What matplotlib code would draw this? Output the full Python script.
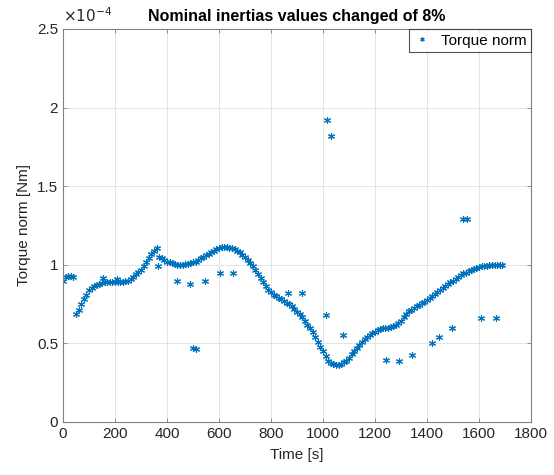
import matplotlib
matplotlib.use('Agg')
import matplotlib.pyplot as plt
from matplotlib.ticker import FuncFormatter

plt.rcParams['font.family'] = ['Liberation Sans', 'DejaVu Sans']

# main trace, one sample every 10 s, torque in units of 1e-4 Nm
time_s = list(range(0, 1700, 10))
torque = [
    0.90, 0.92, 0.93, 0.93, 0.92, 0.69, 0.71, 0.75, 0.78, 0.81,
    0.84, 0.855, 0.865, 0.873, 0.88, 0.885, 0.888, 0.89, 0.89, 0.89,
    0.89, 0.89, 0.89, 0.892, 0.895, 0.90, 0.91, 0.925, 0.94, 0.955,
    0.97, 0.99, 1.02, 1.045, 1.07, 1.09, 1.105, 1.05, 1.04, 1.03,
    1.02, 1.015, 1.01, 1.005, 1.00, 1.00, 1.00, 1.005, 1.005, 1.01,
    1.015, 1.02, 1.03, 1.04, 1.05, 1.06, 1.07, 1.08, 1.09, 1.10,
    1.105, 1.11, 1.11, 1.11, 1.108, 1.105, 1.10, 1.09, 1.08, 1.065,
    1.05, 1.03, 1.01, 0.99, 0.965, 0.94, 0.915, 0.89, 0.865, 0.84,
    0.825, 0.81, 0.80, 0.79, 0.78, 0.77, 0.76, 0.75, 0.735, 0.72,
    0.70, 0.685, 0.665, 0.64, 0.62, 0.60, 0.57, 0.54, 0.51, 0.48,
    0.45, 0.42, 0.39, 0.375, 0.37, 0.365, 0.365, 0.37, 0.38, 0.39,
    0.41, 0.43, 0.45, 0.47, 0.49, 0.51, 0.525, 0.54, 0.555, 0.565,
    0.575, 0.585, 0.59, 0.595, 0.60, 0.60, 0.605, 0.61, 0.62, 0.63,
    0.645, 0.665, 0.69, 0.705, 0.715, 0.725, 0.735, 0.745, 0.755, 0.765,
    0.775, 0.79, 0.80, 0.815, 0.83, 0.84, 0.855, 0.865, 0.875, 0.89,
    0.90, 0.91, 0.925, 0.935, 0.945, 0.95, 0.96, 0.97, 0.975, 0.98,
    0.985, 0.99, 0.993, 0.995, 0.997, 0.998, 0.998, 0.998, 0.998, 0.997,
]

# scattered samples off the main trace
outlier_time = [155, 206, 367, 437, 488, 500, 510, 546, 604, 655,
                867, 918, 1012, 1015, 1030, 1078, 1242, 1292, 1344,
                1418, 1448, 1497, 1540, 1555, 1609, 1667]
outlier_torque = [0.914, 0.907, 0.99, 0.90, 0.88, 0.47, 0.465, 0.90, 0.95, 0.95,
                  0.82, 0.82, 0.68, 1.92, 1.82, 0.553, 0.394, 0.388, 0.424,
                  0.50, 0.54, 0.60, 1.29, 1.29, 0.664, 0.66]

x_ticks = [0, 200, 400, 600, 800, 1000, 1200, 1400, 1600, 1800]
y_ticks = [0, 0.5, 1, 1.5, 2, 2.5]

blue = '#0072BD'
axis_grey = '#262626'
asterisk = (6, 2, 0)  # MATLAB-style '*'

fig = plt.figure(figsize=(5.54, 4.75), dpi=100)
ax = fig.add_axes([0.1137, 0.1116, 0.8448, 0.8274])

all_t = time_s + outlier_time
all_y = torque + outlier_torque
ax.plot(all_t, all_y, linestyle='none', marker=asterisk, color=blue,
        markersize=5, markeredgewidth=0.8, label='Torque norm')

ax.set_xlim(0, 1800)
ax.set_ylim(0, 2.5)
ax.set_xticks(x_ticks)
ax.set_yticks(y_ticks)
ax.yaxis.set_major_formatter(FuncFormatter(lambda v, p: f'{v:g}'))
ax.grid(True, color='#dfdfdf', linewidth=0.6)
ax.set_axisbelow(True)

for side in ax.spines.values():
    side.set_color('#808080')
    side.set_linewidth(0.8)
ax.tick_params(direction='in', length=3, width=0.6, colors='#808080',
               labelcolor=axis_grey, labelsize=11, top=True, right=True,
               labeltop=False, labelright=False)

ax.set_xlabel('Time [s]', fontsize=11, color=axis_grey, labelpad=5)
ax.set_ylabel('Torque norm [Nm]', fontsize=11, color=axis_grey, labelpad=4)
ax.set_title('Nominal inertias values changed of 8%', fontsize=11.5,
             fontweight='bold', color='black', pad=6)
ax.text(0.0, 1.01, r'$\times10^{-4}$', transform=ax.transAxes,
        fontsize=11, color=axis_grey, ha='left', va='bottom')

leg = ax.legend(loc='upper right', fontsize=11, frameon=True, fancybox=False,
                borderaxespad=0.0, handlelength=1.2, handletextpad=0.6,
                borderpad=0.3, markerscale=0.6)
leg.get_frame().set_edgecolor(axis_grey)
leg.get_frame().set_linewidth(0.8)

fig.savefig('out.png', dpi=100)
